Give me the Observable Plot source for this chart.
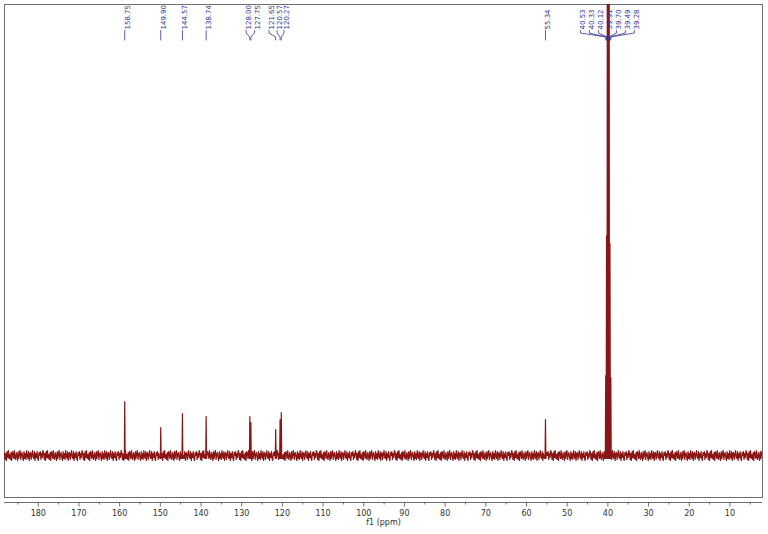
<!DOCTYPE html>
<html>
<head>
<meta charset="utf-8">
<script src="https://cdn.jsdelivr.net/npm/d3@7"></script>
<script src="https://cdn.jsdelivr.net/npm/@observablehq/plot@0.6"></script>
<style>
  html, body { margin: 0; padding: 0; background: #fff; }
  #chart svg { display: block; }
</style>
</head>
<body>
<div id="chart"></div>
<script>
// Peak list (ppm) and estimated relative intensities
const peakPpm    = [158.75, 149.90, 144.57, 138.74, 128.00, 127.75, 121.65, 120.57, 120.27, 55.34,
                    40.53, 40.33, 40.12, 39.91, 39.70, 39.49, 39.28];
const peakHeight = [54, 28, 42, 39, 39, 33, 26, 36, 43, 36,
                    80, 220, 620, 720, 610, 212, 78];
// Labels shown above peaks (text) and where the labels sit on the ppm axis
const labelText  = ["158.75", "149.90", "144.57", "138.74", "128.00", "127.75", "121.65", "120.57", "120.27", "55.34",
                    "40.53", "40.33", "40.12", "39.91", "39.70", "39.49", "39.28"];
const labelPpm   = [158.75, 149.90, 144.57, 138.74, 128.9, 126.85, 123.3, 121.3, 119.6, 55.34,
                    46.76, 44.55, 42.33, 40.12, 37.9, 35.7, 33.5];
// Baseline noise values (estimated, repeating along the baseline)
const noise = [3, -4, 2, -5, 4, -2, 5, -3, 1, -4, 3, -5, 4, 2, -3, 5, -2, -4, 3, 0,
               -5, 4, -3, 2, 5, -4, 1, 3, -2, -5, 4, -3, 2, -4, 5, 0, -3, 4, -5, 2,
               3, -4, 1, 5, -2, -3, 4, -5, 2, -2, 4, -3, -5, 3, 0, 4, -4, 2, -2, 5];
// Axis ticks
const majorTicks = [180, 170, 160, 150, 140, 130, 120, 110, 100, 90, 80, 70, 60, 50, 40, 30, 20, 10];
const minorTicks = [185, 175, 165, 155, 145, 135, 125, 115, 105, 95, 85, 75, 65, 55, 45, 35, 25, 15, 5];
const axisTitle = "f1 (ppm)";

const xMax = 188.3, xMin = 2.0, step = 0.16;

// Build spectrum trace
const spectrum = [];
let k = 0;
for (let p = xMax; p >= xMin; p -= step, k++) {
  if (peakPpm.some(q => Math.abs(q - p) < 0.2)) continue;
  spectrum.push({ppm: p, v: noise[k % noise.length]});
}
peakPpm.forEach((q, i) => {
  spectrum.push({ppm: q + 0.1, v: -3});
  spectrum.push({ppm: q, v: peakHeight[i]});
  spectrum.push({ppm: q - 0.1, v: -3});
});
spectrum.sort((a, b) => b.ppm - a.ppm);

// Connector lines from labels to peaks
const connectors = [];
labelText.forEach((t, i) => {
  const lx = labelPpm[i], px = peakPpm[i];
  connectors.push({id: i, ppm: lx, v: 425});
  connectors.push({id: i, ppm: lx, v: 422.5});
  connectors.push({id: i, ppm: px, v: 418.5});
  connectors.push({id: i, ppm: px, v: 415.5});
});
const labels = labelText.map((t, i) => ({text: t, ppm: labelPpm[i]}));

const navy = "#33339a";
const red = "#8b1414";
const grey = "#6e6e6e";

const chart = Plot.plot({
  width: 768,
  height: 534,
  marginLeft: 4,
  marginRight: 6,
  marginTop: 4,
  marginBottom: 32,
  style: {fontFamily: "'DejaVu Sans', Verdana, sans-serif", fontSize: "8px", color: "#222", background: "#fff"},
  x: {domain: [xMax, xMin], label: null},
  y: {domain: [-47, 451], axis: null},
  marks: [
    Plot.frame({stroke: grey, insetBottom: 5}),
    Plot.ruleY([-47], {stroke: grey}),
    Plot.axisX({ticks: minorTicks, tickSize: 2.5, text: null, stroke: grey, label: null}),
    Plot.axisX({ticks: majorTicks, tickSize: 4.5, tickPadding: 3.5, stroke: grey, tickFormat: d => String(d),
      fontSize: 8, fill: "#333", label: null}),
    Plot.text([axisTitle], {text: d => d, frameAnchor: "bottom", dy: 22, fontSize: 8, fill: "#333"}),
    Plot.line(spectrum, {x: "ppm", y: "v", stroke: red, strokeWidth: 1.2, clip: true}),
    Plot.line(connectors, {x: "ppm", y: "v", z: "id", stroke: navy, strokeWidth: 0.8}),
    Plot.text(labels, {x: "ppm", text: "text", frameAnchor: "top", dy: 25, rotate: -90,
      textAnchor: "start", fill: navy, fontSize: 7, fontFamily: "'DejaVu Sans', Verdana, sans-serif"})
  ]
});
document.getElementById("chart").appendChild(chart);
</script>
</body>
</html>
